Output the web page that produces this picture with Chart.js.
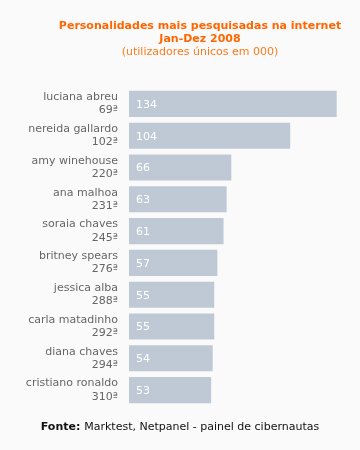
<!DOCTYPE html>
<html>
<head>
<meta charset="utf-8">
<script src="https://cdn.jsdelivr.net/npm/chart.js@4"></script>
<style>
  html, body { margin: 0; padding: 0; background: #fafafa; }
  #wrap { width: 360px; height: 450px; }
</style>
</head>
<body>
<div id="wrap"><canvas id="chart" width="360" height="450"></canvas></div>
<script>
const names = ['luciana abreu', 'nereida gallardo', 'amy winehouse', 'ana malhoa', 'soraia chaves',
               'britney spears', 'jessica alba', 'carla matadinho', 'diana chaves', 'cristiano ronaldo'];
const ranks = ['69ª', '102ª', '220ª', '231ª', '245ª', '276ª', '288ª', '292ª', '294ª', '310ª'];
const values = [134, 104, 66, 63, 61, 57, 55, 55, 54, 53];

const titleLines = ['Personalidades mais pesquisadas na internet', 'Jan-Dez 2008'];
const subtitleText = '(utilizadores únicos em 000)';

const FONT = '"DejaVu Sans", Verdana, sans-serif';

// draws the numbers inside bars + header and footer text
const textPlugin = {
    id: 'texts',
    afterDatasetsDraw(chart) {
        const ctx = chart.ctx;
        const meta = chart.getDatasetMeta(0);
        ctx.save();
        ctx.font = '11px ' + FONT;
        ctx.fillStyle = '#ffffff';
        ctx.textBaseline = 'middle';
        ctx.textAlign = 'left';
        meta.data.forEach((bar, i) => {
            ctx.fillText(String(values[i]), bar.base + 7, bar.y + 1);
        });

        // header
        ctx.textAlign = 'center';
        ctx.fillStyle = '#ff6600';
        ctx.font = 'bold 11px ' + FONT;
        ctx.fillText(titleLines[0], 200, 26);
        ctx.fillText(titleLines[1], 200, 39);
        ctx.fillStyle = '#ff7a1a';
        ctx.font = '11px ' + FONT;
        ctx.fillText(subtitleText, 200, 52);

        // footer
        ctx.textAlign = 'left';
        ctx.fillStyle = '#111111';
        ctx.font = 'bold 11px ' + FONT;
        const bold = 'Fonte: ';
        const bw = ctx.measureText(bold).width;
        ctx.font = '11px ' + FONT;
        const rest = 'Marktest, Netpanel - painel de cibernautas';
        const rw = ctx.measureText(rest).width;
        const x0 = 180 - (bw + rw) / 2;
        ctx.font = 'bold 11px ' + FONT;
        ctx.fillText(bold, x0, 427);
        ctx.font = '11px ' + FONT;
        ctx.fillText(rest, x0 + bw, 427);
        ctx.restore();
    }
};

new Chart(document.getElementById('chart'), {
    type: 'bar',
    data: {
        labels: names.map((n, i) => [n, ranks[i]]),
        datasets: [{
            data: values,
            backgroundColor: '#bec9d5',
            borderWidth: 0,
            barPercentage: 0.82,
            categoryPercentage: 1
        }]
    },
    options: {
        indexAxis: 'y',
        responsive: false,
        animation: false,
        layout: { padding: { top: 88, bottom: 44, right: 14, left: 0 } },
        plugins: {
            legend: { display: false },
            tooltip: { enabled: false }
        },
        scales: {
            x: { display: false, min: 0, max: 140 },
            y: {
                grid: { display: false, drawTicks: false },
                border: { display: false },
                ticks: {
                    color: '#666666',
                    padding: 11,
                    font: { family: FONT, size: 11, lineHeight: 1.2 }
                },
                afterFit(scale) { scale.width = 129; }
            }
        }
    },
    plugins: [textPlugin]
});
</script>
</body>
</html>
